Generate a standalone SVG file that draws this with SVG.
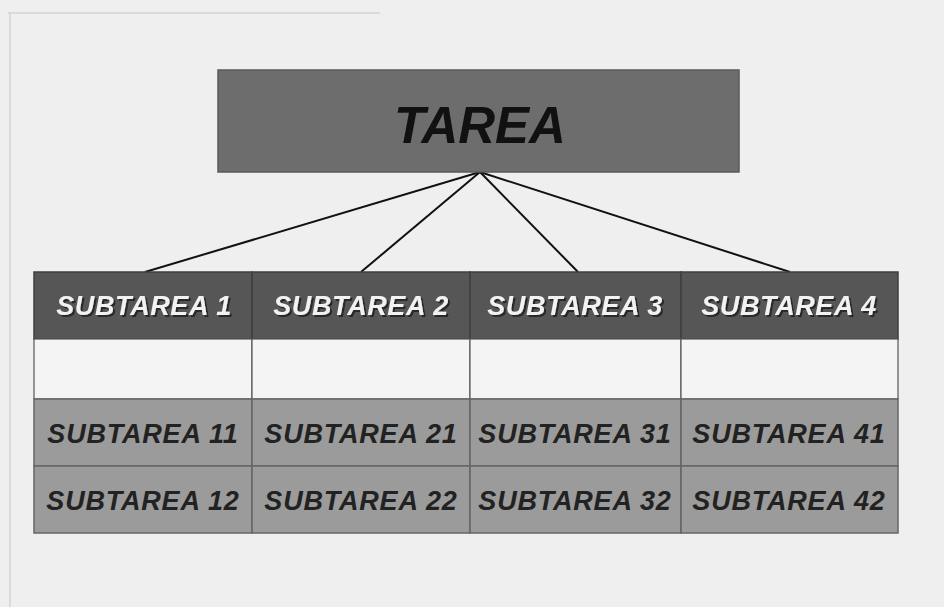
<svg xmlns="http://www.w3.org/2000/svg" width="944" height="607" viewBox="0 0 944 607">
  <defs>
    <filter id="shadow" x="-10%" y="-30%" width="120%" height="160%">
      <feDropShadow dx="2" dy="2" stdDeviation="0.6" flood-color="#222222" flood-opacity="0.9"/>
    </filter>
    <style>
      .bg { fill: #efefef; }
      .frame { stroke: #dadada; stroke-width: 2; fill: none; }
      .root { fill: #6d6d6d; stroke: #5a5a5a; stroke-width: 1.5; }
      .head { fill: #565656; stroke: #3f3f3f; stroke-width: 1.5; }
      .blank { fill: #f4f4f4; stroke: #555555; stroke-width: 1.2; }
      .leaf { fill: #9b9b9b; stroke: #666666; stroke-width: 1.5; }
      .link { stroke: #111111; stroke-width: 2; fill: none; }
      text { font-family: "Liberation Sans", Arial, sans-serif; font-weight: bold; font-style: italic; text-anchor: middle; }
      .t-root { font-size: 51px; fill: #111111; }
      .t-head { font-size: 27px; fill: #f2f2f2; letter-spacing: 0.6px; filter: url(#shadow); }
      .t-leaf { font-size: 27px; fill: #222222; letter-spacing: 0.8px; }
    </style>
  </defs>

  <rect class="bg" x="0" y="0" width="944" height="607"/>
  <path class="frame" d="M8 13 H380 M10 13 V607"/>

  <!-- connectors from the root task to each subtask header -->
  <g id="connectors">
    <line class="link" x1="480" y1="172" x2="145" y2="272"/>
    <line class="link" x1="480" y1="172" x2="361" y2="272"/>
    <line class="link" x1="480" y1="172" x2="578" y2="272"/>
    <line class="link" x1="480" y1="172" x2="790" y2="272"/>
  </g>

  <g id="tarea">
    <rect class="root" x="218" y="70" width="521" height="102"/>
    <text class="t-root" x="480" y="143">TAREA</text>
  </g>

  <!-- header row -->
  <g id="subtarea-1">
    <rect class="head" x="34" y="272" width="218" height="67"/>
    <text class="t-head" x="144" y="315">SUBTAREA 1</text>
  </g>
  <g id="subtarea-2">
    <rect class="head" x="252" y="272" width="218" height="67"/>
    <text class="t-head" x="361" y="315">SUBTAREA 2</text>
  </g>
  <g id="subtarea-3">
    <rect class="head" x="470" y="272" width="211" height="67"/>
    <text class="t-head" x="575" y="315">SUBTAREA 3</text>
  </g>
  <g id="subtarea-4">
    <rect class="head" x="681" y="272" width="217" height="67"/>
    <text class="t-head" x="789" y="315">SUBTAREA 4</text>
  </g>

  <!-- empty spacer row -->
  <g id="spacer-row">
    <rect class="blank" x="34" y="339" width="218" height="60"/>
    <rect class="blank" x="252" y="339" width="218" height="60"/>
    <rect class="blank" x="470" y="339" width="211" height="60"/>
    <rect class="blank" x="681" y="339" width="217" height="60"/>
  </g>

  <!-- first level of sub-subtasks -->
  <g id="subtarea-11">
    <rect class="leaf" x="34" y="399" width="218" height="67"/>
    <text class="t-leaf" x="143" y="443">SUBTAREA 11</text>
  </g>
  <g id="subtarea-21">
    <rect class="leaf" x="252" y="399" width="218" height="67"/>
    <text class="t-leaf" x="361" y="443">SUBTAREA 21</text>
  </g>
  <g id="subtarea-31">
    <rect class="leaf" x="470" y="399" width="211" height="67"/>
    <text class="t-leaf" x="575" y="443">SUBTAREA 31</text>
  </g>
  <g id="subtarea-41">
    <rect class="leaf" x="681" y="399" width="217" height="67"/>
    <text class="t-leaf" x="789" y="443">SUBTAREA 41</text>
  </g>

  <!-- second level of sub-subtasks -->
  <g id="subtarea-12">
    <rect class="leaf" x="34" y="466" width="218" height="67"/>
    <text class="t-leaf" x="143" y="510">SUBTAREA 12</text>
  </g>
  <g id="subtarea-22">
    <rect class="leaf" x="252" y="466" width="218" height="67"/>
    <text class="t-leaf" x="361" y="510">SUBTAREA 22</text>
  </g>
  <g id="subtarea-32">
    <rect class="leaf" x="470" y="466" width="211" height="67"/>
    <text class="t-leaf" x="575" y="510">SUBTAREA 32</text>
  </g>
  <g id="subtarea-42">
    <rect class="leaf" x="681" y="466" width="217" height="67"/>
    <text class="t-leaf" x="789" y="510">SUBTAREA 42</text>
  </g>
</svg>
